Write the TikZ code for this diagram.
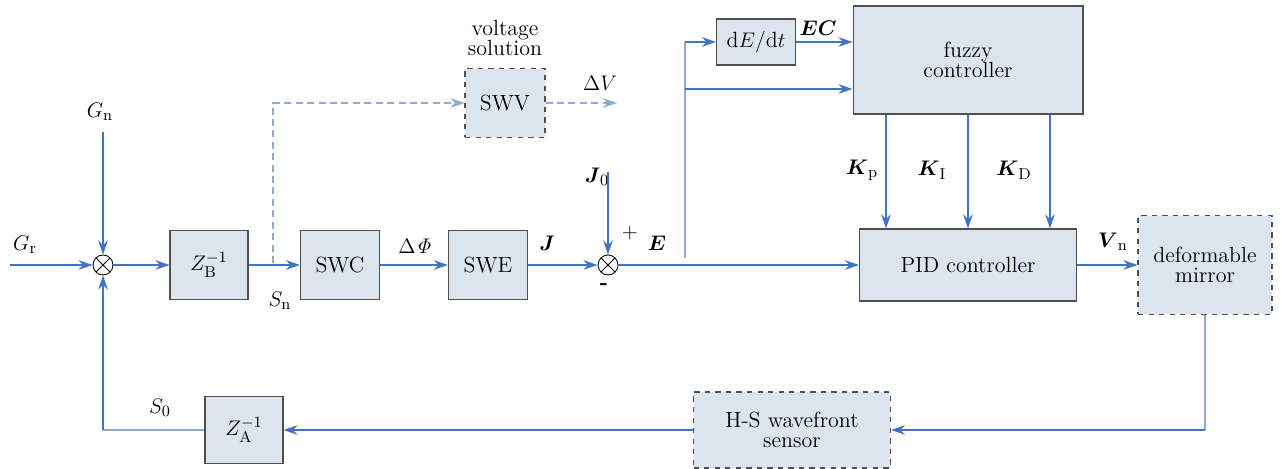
\documentclass[tikz,border=0pt]{standalone}
\usepackage{amsmath,amssymb}
\usepackage{tikz}
\usetikzlibrary{positioning,arrows.meta,calc}
\usepackage{xcolor}
\definecolor{sigblue}{HTML}{4472C4}
\definecolor{paleblue}{HTML}{8EA8D8}
\definecolor{boxfill}{HTML}{DCE4EE}
\definecolor{boxedge}{HTML}{505050}

\begin{document}
\begin{tikzpicture}[x=0.02cm,y=-0.02cm,>={Stealth[length=2.8mm,width=1.9mm]},
  font=\fontsize{12.5}{14}\selectfont,
  blk/.style={draw=boxedge,fill=boxfill,line width=0.6pt,inner sep=0pt,align=center},
  dblk/.style={blk,dashed},
  sig/.style={draw=sigblue,line width=1.1pt},
  thinsig/.style={draw=paleblue,line width=0.6pt},
  dsig/.style={draw=paleblue,line width=0.7pt,dash pattern=on 4pt off 2.5pt},
  junc/.style={circle,draw,line width=0.5pt,inner sep=0pt,minimum size=0.4cm,
    path picture={\draw[line width=0.5pt] (path picture bounding box.north west) -- (path picture bounding box.south east)
      (path picture bounding box.south west) -- (path picture bounding box.north east);}}]
\useasboundingbox (0,0) rectangle (1282,469);
% blocks
\node[junc] (sum1) at (103,265) {};
\node[blk,minimum width=1.56cm,minimum height=1.38cm] (zb) at (209,265) {$Z_{\mathrm{B}}^{-1}$};
\node[blk,minimum width=1.58cm,minimum height=1.38cm] (swc) at (340,265) {SWC};
\node[blk,minimum width=1.58cm,minimum height=1.38cm] (swe) at (488,265) {SWE};
\node[dblk,minimum width=1.6cm,minimum height=1.38cm] (swv) at (505,103) {SWV};
\node[align=center] (swvt) at (505,38) {voltage\\[-3pt]solution};
\node[junc] (sum2) at (608,265) {};
\node[blk,minimum width=1.58cm,minimum height=0.92cm] (dedt) at (756,42) {d$E$/d$t$};
\node[blk,minimum width=4.6cm,minimum height=2.16cm] (fuzzy) at (968,60) {fuzzy\\[-3pt]controller};
\node[blk,minimum width=4.34cm,minimum height=1.44cm] (pid) at (968,265) {PID controller};
\node[dblk,minimum width=2.68cm,minimum height=1.98cm] (dm) at (1205,265) {deformable\\[-3pt]mirror};
\node[dblk,minimum width=3.94cm,minimum height=1.52cm] (hs) at (792,430) {H-S wavefront\\[-3pt]sensor};
\node[blk,minimum width=1.56cm,minimum height=1.34cm] (za) at (244,430) {$Z_{\mathrm{A}}^{-1}$};
% free ends and corners
\coordinate (grin) at (10,265);
\coordinate (gnin) at (103,132);
\coordinate (j0in) at (608,172);
\coordinate (dvout) at (617,103);
\coordinate (snup) at (273,263);
\coordinate (snturn) at (273,103);
\coordinate (br) at (685,258);
\coordinate (brtop) at (685,42);
\coordinate (brmid) at (685,89);
\coordinate (dmturn) at (1205,430);
\coordinate (zaturn) at (103,430);
% labels
\node (gr) at (25,245) {$G_{\mathrm{r}}$};
\node (gn) at (100,112) {$G_{\mathrm{n}}$};
\node (sn) at (280,301) {$S_{\mathrm{n}}$};
\node (dphi) at (415,246) {$\Delta\mathit{\Phi}$};
\node (dv) at (600,83) {$\Delta V$};
\node (jl) at (547,243) {$\boldsymbol{J}$};
\node (j0l) at (597,177) {$\boldsymbol{J}_{\mathrm{0}}$};
\node (plus) at (630,233) {$+$};
\node (el) at (657,243) {$\boldsymbol{E}$};
\node (minus) at (604,287) {\textbf{-}};
\node (ecl) at (818,28) {$\boldsymbol{EC}$};
\node (kp) at (862,170) {$\boldsymbol{K}_{\mathrm{p}}$};
\node (ki) at (932,170) {$\boldsymbol{K}_{\mathrm{I}}$};
\node (kd) at (1014,170) {$\boldsymbol{K}_{\mathrm{D}}$};
\node (vn) at (1113,242) {$\boldsymbol{V}_{\mathrm{n}}$};
\node (s0) at (160,408) {$S_{\mathrm{0}}$};
% forward path
\draw[sig,->] (grin) -- (sum1);
\draw[sig,->] (gnin) -- (sum1);
\draw[sig,->] (sum1) -- (zb);
\draw[sig,->] (zb) -- (swc);
\draw[sig,->] (swc) -- (swe);
\draw[sig,->] (swe) -- (sum2);
\draw[sig,->] (j0in) -- (sum2);
\draw[sig,->] (sum2) -- (pid);
\draw[sig,->] (pid) -- (dm);
% voltage solution branch
\draw[dsig,->] (snup) -- (snturn) -- (swv);
\draw[dsig,->] (swv) -- (dvout);
% fuzzy tuning
\draw[thinsig] (br) -- (brtop);
\draw[sig,->] (brtop) -- (dedt);
\draw[sig,->] (dedt) -- (dedt -| fuzzy.west);
\draw[sig,->] (brmid) -- (brmid -| fuzzy.west);
\foreach \xx in {886,968,1050}
  \draw[sig,->] (fuzzy.south -| \xx,0) -- (pid.north -| \xx,0);
% feedback path
\draw[thinsig] (dm) -- (dmturn);
\draw[sig,->] (dmturn) -- (hs);
\draw[sig,->] (hs) -- (za);
\draw[thinsig] (za) -- (zaturn);
\draw[sig,->] (zaturn) -- (sum1);
\end{tikzpicture}
\end{document}
